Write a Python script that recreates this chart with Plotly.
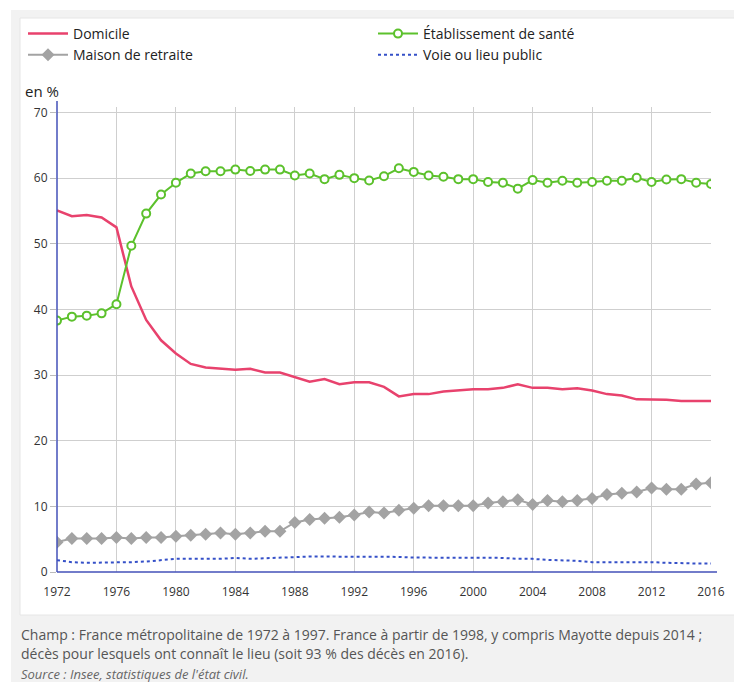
import plotly.graph_objects as go

years = list(range(1972, 2017))

domicile = [55.1, 54.2, 54.4, 54.0, 52.5, 43.5, 38.4, 35.3, 33.3, 31.7,
            31.15, 30.95, 30.8, 30.95, 30.4, 30.4, 29.7, 29.0, 29.4, 28.6,
            28.9, 28.9, 28.2, 26.75, 27.1, 27.1, 27.5, 27.65, 27.85, 27.85,
            28.05, 28.6, 28.05, 28.05, 27.85, 28.0, 27.65, 27.1, 26.9, 26.3,
            26.3, 26.25, 26.05, 26.05, 26.05]

etablissement = [38.3, 38.9, 39.05, 39.4, 40.8, 49.7, 54.6, 57.5, 59.3, 60.7,
                 61.05, 61.05, 61.3, 61.1, 61.3, 61.3, 60.4, 60.7, 59.85, 60.5,
                 60.0, 59.65, 60.3, 61.5, 60.95, 60.4, 60.2, 59.85, 59.85, 59.4,
                 59.3, 58.4, 59.7, 59.3, 59.6, 59.3, 59.4, 59.6, 59.6, 60.05,
                 59.4, 59.8, 59.85, 59.3, 59.1]

maison = [4.55, 5.1, 5.1, 5.1, 5.25, 5.1, 5.25, 5.25, 5.45, 5.6,
          5.75, 5.95, 5.75, 5.95, 6.2, 6.2, 7.55, 8.0, 8.2, 8.35,
          8.7, 9.15, 9.0, 9.4, 9.7, 10.1, 10.1, 10.1, 10.1, 10.5,
          10.7, 11.0, 10.3, 10.9, 10.7, 10.9, 11.2, 11.8, 12.0, 12.2,
          12.8, 12.6, 12.6, 13.4, 13.6]

voie = [1.8, 1.5, 1.4, 1.4, 1.4, 1.5, 1.6, 1.8, 2.0, 2.0,
        2.0, 2.0, 2.15, 2.0, 2.1, 2.2, 2.35, 2.35, 2.35, 2.35,
        2.35, 2.35, 2.3, 2.3, 2.2, 2.2, 2.2, 2.2, 2.2, 2.2,
        2.15, 2.0, 2.0, 1.85, 1.8, 1.7, 1.5, 1.5, 1.5, 1.6,
        1.5, 1.4, 1.3, 1.3, 1.3]

x_ticks = list(range(1972, 2017, 4))
y_ticks = [0, 10, 20, 30, 40, 50, 60, 70]

W, H = 734, 682
ML, MR, MT, MB = 57, 23, 107, 110
PW, PH = W - ML - MR, H - MT - MB
YMAX = 70 * PH / (572 - 112.5)


def px2x(px):
    return (px - ML) / PW


def px2y(py):
    return (H - MB - py) / PH


FONT = "Open Sans"
RED = "#e8426d"
GREEN = "#5cc12c"
GRAY = "#a3a3a3"
BLUE = "#3550c8"
AXIS = "#4350b8"

fig = go.Figure()
fig.add_trace(go.Scatter(x=years, y=domicile, name="Domicile", mode="lines",
                         line=dict(color=RED, width=2.5)))
fig.add_trace(go.Scatter(x=years, y=etablissement, name="Établissement de santé",
                         mode="lines+markers",
                         line=dict(color=GREEN, width=2),
                         marker=dict(symbol="circle", size=8, color="white",
                                     line=dict(color=GREEN, width=2))))
fig.add_trace(go.Scatter(x=years, y=maison, name="Maison de retraite",
                         mode="lines+markers",
                         line=dict(color=GRAY, width=2),
                         marker=dict(symbol="diamond", size=10, color=GRAY)))
fig.add_trace(go.Scatter(x=years, y=voie, name="Voie ou lieu public", mode="lines",
                         line=dict(color=BLUE, width=2, dash="dot")))

shapes = [
    # grey outer background
    dict(type="rect", xref="paper", yref="paper", layer="below",
         x0=px2x(11), x1=px2x(740), y0=px2y(10), y1=px2y(690),
         fillcolor="#f2f2f2", line=dict(width=0)),
    # white panel
    dict(type="rect", xref="paper", yref="paper", layer="below",
         x0=px2x(20), x1=px2x(740), y0=px2y(18), y1=px2y(615),
         fillcolor="white", line=dict(color="#e6e6e6", width=1)),
    # y axis line
    dict(type="line", xref="paper", yref="paper",
         x0=0, x1=0, y0=0, y1=px2y(101), line=dict(color=AXIS, width=1.5)),
    # x axis line
    dict(type="line", xref="paper", yref="paper",
         x0=0, x1=px2x(717), y0=0, y1=0, line=dict(color=AXIS, width=1.5)),
]

annotations = [
    dict(text="en %", xref="paper", yref="paper", x=px2x(23), y=px2y(91),
         xanchor="left", yanchor="middle", showarrow=False,
         font=dict(family=FONT, size=15, color="#222")),
    dict(text="Champ : France métropolitaine de 1972 à 1997. France à partir de 1998, y compris Mayotte depuis 2014 ;",
         xref="paper", yref="paper", x=px2x(19), y=px2y(634),
         xanchor="left", yanchor="middle", showarrow=False,
         font=dict(family=FONT, size=14, color="#555")),
    dict(text="décès pour lesquels ont connaît le lieu (soit 93 % des décès en 2016).",
         xref="paper", yref="paper", x=px2x(19), y=px2y(653),
         xanchor="left", yanchor="middle", showarrow=False,
         font=dict(family=FONT, size=14, color="#555")),
    dict(text="<i>Source : Insee, statistiques de l'état civil.</i>",
         xref="paper", yref="paper", x=px2x(19), y=px2y(674),
         xanchor="left", yanchor="middle", showarrow=False,
         font=dict(family=FONT, size=13, color="#666")),
]

fig.update_layout(
    width=W, height=H,
    margin=dict(l=ML, r=MR, t=MT, b=MB, autoexpand=False),
    paper_bgcolor="white",
    plot_bgcolor="rgba(0,0,0,0)",
    font=dict(family=FONT, size=12, color="#333"),
    shapes=shapes,
    annotations=annotations,
    showlegend=True,
    legend=dict(orientation="h", x=px2x(23), y=px2y(18),
                xanchor="left", yanchor="top",
                xref="paper", yref="paper",
                entrywidth=295, entrywidthmode="pixels",
                itemwidth=40, traceorder="normal",
                bgcolor="rgba(0,0,0,0)",
                font=dict(family=FONT, size=14, color="#222")),
    xaxis=dict(range=[1972, 2016], tickvals=x_ticks,
               ticktext=[str(v) for v in x_ticks],
               showgrid=True, gridcolor="#cfcfcf", gridwidth=1,
               zeroline=False, showline=False, ticks="",
               tickfont=dict(family=FONT, size=12, color="#333"),
               ticklabelstandoff=11),
    yaxis=dict(range=[0, YMAX], tickvals=y_ticks,
               showgrid=True, gridcolor="#cfcfcf", gridwidth=1,
               zeroline=False, showline=False,
               ticks="outside", ticklen=6, tickcolor="#bbbbbb",
               tickfont=dict(family=FONT, size=12, color="#333")),
)

fig.write_html(
    "out.html",
    config={"displayModeBar": False},
    post_script="document.body.style.margin='0';document.body.style.overflow='hidden';",
)
